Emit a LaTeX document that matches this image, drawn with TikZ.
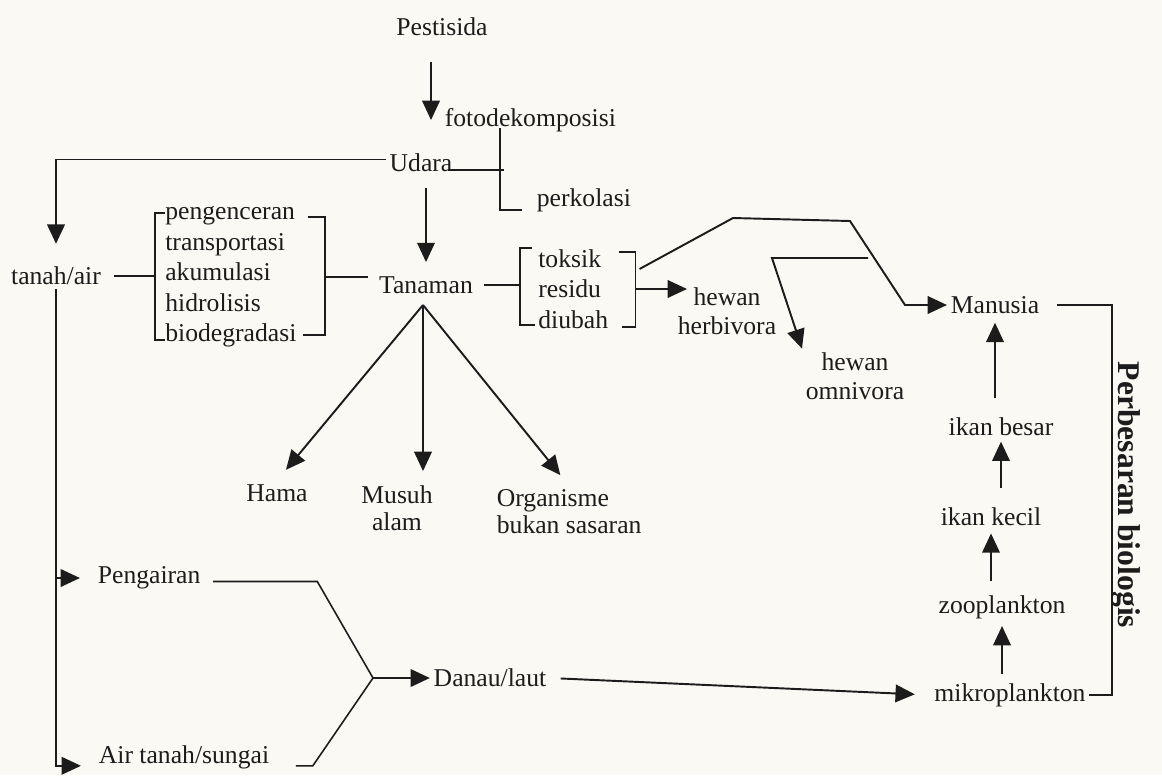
\documentclass[tikz,border=0pt]{standalone}
\usepackage{fontspec}
\setmainfont{Liberation Serif}
\usetikzlibrary{arrows.meta, calc}
\definecolor{paper}{RGB}{251,249,243}
\definecolor{ink}{RGB}{28,28,28}
\tikzset{
  txt/.style  ={inner sep=2pt, text=ink, font=\fontsize{14.6}{17.4}\selectfont},
  lst/.style  ={txt, align=left, inner sep=0pt},
  two/.style  ={txt, align=center, font=\fontsize{14.6}{16.5}\selectfont},
  ln/.style   ={draw=ink, line width=0.9pt},
  arr/.style  ={ln, line width=1.1pt, -{Triangle[length=11pt, width=10pt]}},
}

\begin{document}
\begin{tikzpicture}[x=0.02cm, y=-0.02cm]
  \fill[paper] (0,0) rectangle (1162,775);
  \useasboundingbox (0,0) rectangle (1162,775);

  % atas
  \node[txt]               (pest)  at (442,27)  {Pestisida};
  \node[txt, anchor=west]  (foto)  at (441,120) {fotodekomposisi};
  \node[txt]               (uda)   at (421,163) {Udara};
  \node[txt, anchor=west]  (perk)  at (533,200) {perkolasi};

  % baris tengah
  \node[txt]               (tanah) at (56,276)  {tanah/air};
  \node[lst, anchor=west]  (proc)  at (165,277)
       {pengenceran\\transportasi\\akumulasi\\hidrolisis\\biodegradasi};
  \node[txt]               (tan)   at (426,285) {Tanaman};
  \node[lst, anchor=west]  (toks)  at (538,289) {toksik\\residu\\diubah};
  \node[two]               (herb)  at (727,311) {hewan\\herbivora};
  \node[two]               (omni)  at (855,376) {hewan\\omnivora};

  % rantai makanan
  \node[txt] (man)   at (995,305)  {Manusia};
  \node[txt] (besar) at (1001,427) {ikan besar};
  \node[txt] (kecil) at (991,517)  {ikan kecil};
  \node[txt] (zoo)   at (1002,607) {zooplankton};
  \node[txt] (mikro) at (1010,695) {mikroplankton};
  \node[txt, font=\fontsize{18}{20}\selectfont\bfseries, rotate=-90]
             (bio)   at (1126,495) {Perbesaran biologis};

  % sasaran
  \node[txt]                          (hama) at (277,493) {Hama};
  \node[two, font=\fontsize{14.6}{15.4}\selectfont]
                                      (mus)  at (397,508) {Musuh\\alam};
  \node[txt, align=left, anchor=west, font=\fontsize{14.6}{15.4}\selectfont]
                                      (org)  at (493,512) {Organisme\\bukan sasaran};

  % air
  \node[txt, anchor=west] (peng)  at (94,578)  {Pengairan};
  \node[txt, anchor=west] (air)   at (95,757)  {Air tanah/sungai};
  \node[txt]              (danau) at (490,678) {Danau/laut};

  % kurung
  \coordinate (pL) at ($(proc.west)+(-10,0)$);
  \coordinate (pR) at ($(proc.east)+(28,0)$);
  \draw[ln] ($(pL)+(10,-64)$) -- ($(pL)+(0,-64)$) -- ($(pL)+(0,63)$) -- ($(pL)+(10,63)$);
  \draw[ln] ($(pR)+(-17,-60)$) -- ($(pR)+(0,-60)$) -- ($(pR)+(0,58)$) -- ($(pR)+(-22,58)$);
  \coordinate (tL) at ($(toks.west)+(-18,0)$);
  \coordinate (tR) at ($(toks.east)+(27,0)$);
  \draw[ln] ($(tL)+(12,-41)$) -- ($(tL)+(0,-41)$) -- ($(tL)+(0,36)$) -- ($(tL)+(15,36)$);
  \draw[ln] ($(tR)+(-17,-37)$) -- ($(tR)+(0,-37)$) -- ($(tR)+(0,38)$) -- ($(tR)+(-14,38)$);

  % pestisida ke udara
  \coordinate (pa) at (431,62);
  \draw[arr] (pa) -- (pa |- foto.west);
  \coordinate (fp) at (500,128);
  \draw[ln] (fp) |- ([xshift=-6pt, yshift=3pt]perk.south west);
  \draw[ln] ($(uda.east)+(-8,7)$) -- ($(uda.east -| fp)+(4,7)$);
  \draw[arr, shorten >=11pt] ([yshift=2pt]uda.west) -| (tanah.north);
  \draw[arr, shorten <=7pt, shorten >=6pt] (uda.south -| tan.north) -- (tan.north);

  % tanah/air - tanaman - residu
  \draw[ln, shorten <=5pt] (tanah.east) -- (tanah.east -| pL);
  \draw[ln, shorten >=4pt] (pR) -- (pR -| tan.west);
  \draw[ln, shorten <=4pt] (tan.east) -- (tan.east -| tL);
  \draw[arr] (tR) -- ($(herb.west |- tR)+(13,0)$);
  \draw[arr] ($(tR)+(4,-20)$) -- (733,218) -- (850,221) -- (905,305) -- (man.west);
  \coordinate (omn0) at (868,258);
  \draw[arr] (omn0) -- (772,258) -- (omni.north west);

  % tanaman ke sasaran
  \coordinate (fan) at (423,305);
  \draw[arr, shorten >=8pt] (fan) -- (hama.north);
  \draw[arr, shorten >=6pt] (fan) -- (fan |- mus.north);
  \draw[arr, shorten >=8pt] (fan) -- (org.north);

  % aliran air
  \draw[arr, shorten >=8pt] (tanah.south |- peng.west) -- (peng.west);
  \draw[arr, shorten >=8pt] (tanah.south) |- ([yshift=-5pt]air.west);
  \coordinate (jn) at (373,678);
  \draw[ln, shorten <=5pt] ([yshift=-2pt]peng.east) -- ++(113,0) -- (jn);
  \draw[ln] ([xshift=13pt, yshift=-5pt]air.east) -- ++(17,0) -- (jn);
  \draw[arr] (jn) -- (jn -| danau.west);
  \draw[arr, shorten <=6pt, shorten >=9pt] (danau.east) -- (mikro.west);

  % rantai
  \draw[arr, shorten <=3pt, shorten >=2pt] (mikro.north -| zoo.south) -- (zoo.south);
  \draw[arr, shorten <=6pt, shorten >=2pt] (zoo.north -| kecil.south) -- (kecil.south);
  \draw[arr, shorten <=9pt, shorten >=1pt] (kecil.north -| besar.south) -- (besar.south);
  \draw[arr, shorten <=9pt, shorten >=3pt] (besar.north -| man.south) -- (man.south);
  \coordinate (bra) at (1112,500);
  \draw[ln, shorten <=8pt] (man.east) -| (bra) |- (mikro.east);
\end{tikzpicture}
\end{document}
